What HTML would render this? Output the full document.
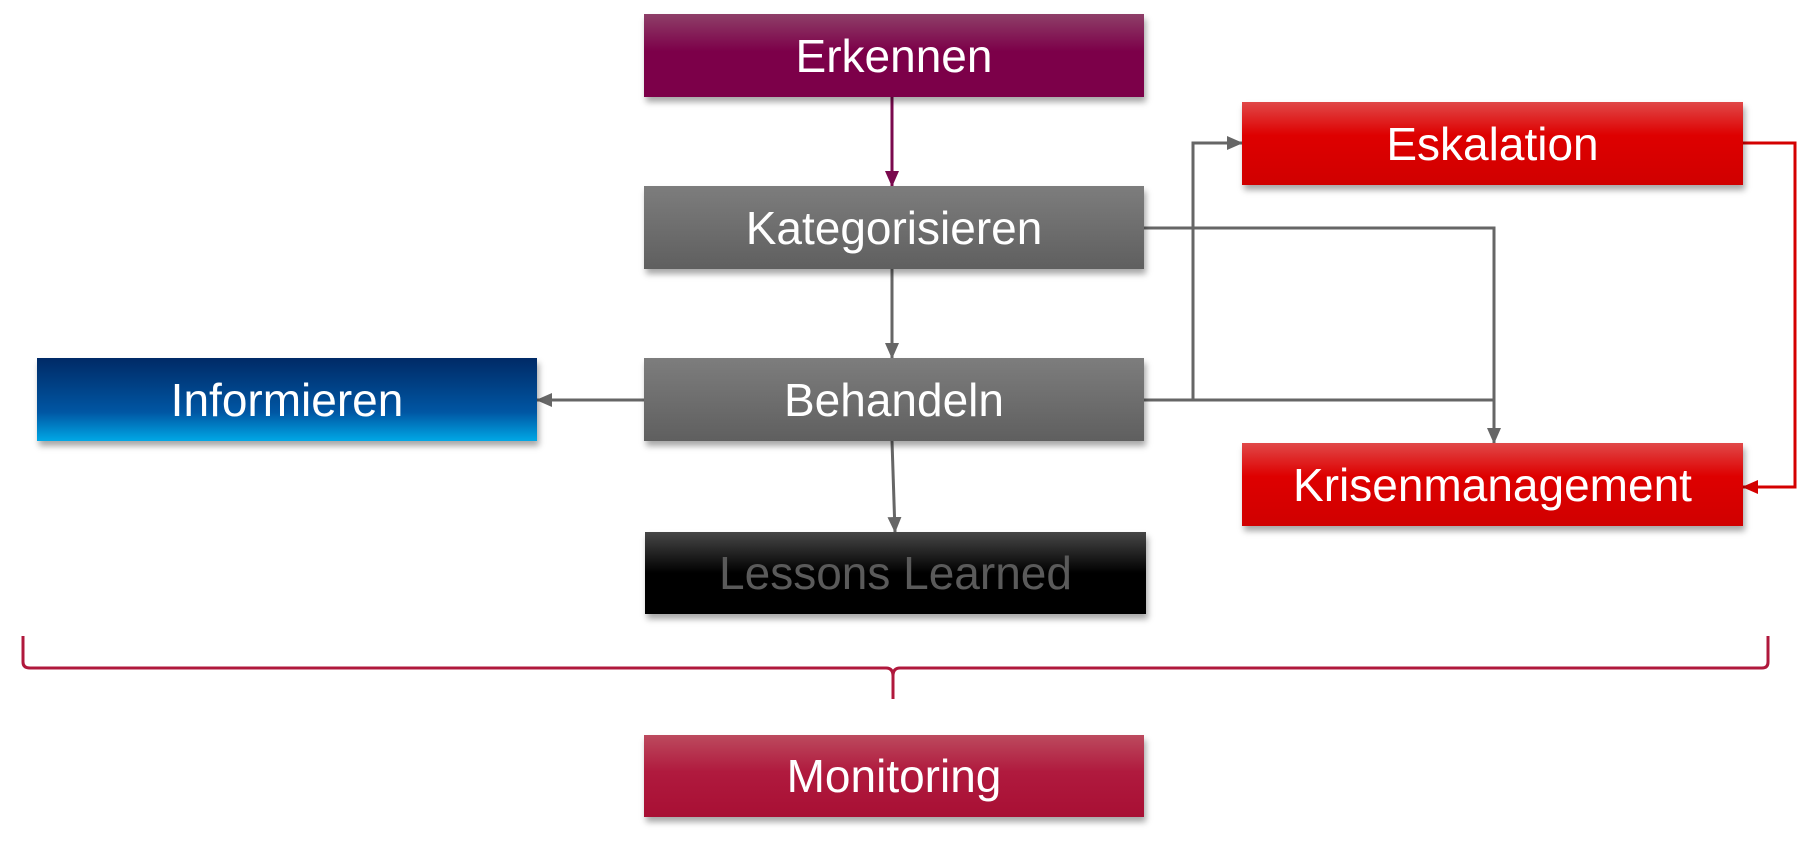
<!DOCTYPE html>
<html><head><meta charset="utf-8"><style>
body{margin:0;width:1812px;height:842px;background:#fff;position:relative;overflow:hidden;font-family:"Liberation Sans",sans-serif}
.b{position:absolute;display:flex;align-items:center;justify-content:center;color:#fff;font-size:46px;box-shadow:2px 5px 6px rgba(0,0,0,.35)}
svg{position:absolute;left:0;top:0}
</style></head><body>
<svg width="1812" height="842">
<defs>
<marker id="gg" markerWidth="16" markerHeight="14" refX="15" refY="7" orient="auto" markerUnits="userSpaceOnUse"><path d="M0,0L16,7L0,14z" fill="#666"/></marker>
<marker id="p" markerWidth="16" markerHeight="14" refX="15" refY="7" orient="auto" markerUnits="userSpaceOnUse"><path d="M0,0L16,7L0,14z" fill="#7a0a4e"/></marker>
<marker id="r" markerWidth="16" markerHeight="14" refX="15" refY="7" orient="auto" markerUnits="userSpaceOnUse"><path d="M0,0L16,7L0,14z" fill="#d40000"/></marker>
</defs>
<g fill="none" stroke-width="3">
<line x1="892" y1="97" x2="892" y2="186" stroke="#7a0a4e" marker-end="url(#p)"/>
<line x1="892" y1="269" x2="892" y2="358" stroke="#666" marker-end="url(#gg)"/>
<line x1="892" y1="441" x2="895" y2="532" stroke="#666" marker-end="url(#gg)"/>
<line x1="644" y1="400" x2="537" y2="400" stroke="#666" marker-end="url(#gg)"/>
<polyline points="1144,400 1494,400 1494,443" stroke="#666" marker-end="url(#gg)"/>
<polyline points="1144,228 1494,228 1494,443" stroke="#666"/>
<polyline points="1193,400 1193,143 1242,143" stroke="#666" marker-end="url(#gg)"/>
<polyline points="1743,143 1795,143 1795,487 1743,487" stroke="#d40000" marker-end="url(#r)"/>
<path d="M23,636 L23,662 Q23,668 30,668 L886,668 Q893,668 893,676 L893,699 M893,676 Q893,668 900,668 L1762,668 Q1768,668 1768,662 L1768,636" stroke="#b0183c"/>
</g>
</svg>
<div class="b" style="left:644px;top:14px;width:500px;height:83px;background:linear-gradient(#8e3f68,#7c0049 45%,#7c0049)">Erkennen</div>
<div class="b" style="left:644px;top:186px;width:500px;height:83px;background:linear-gradient(#7d7d7d,#5f5f5f)">Kategorisieren</div>
<div class="b" style="left:644px;top:358px;width:500px;height:83px;background:linear-gradient(#7d7d7d,#5f5f5f)">Behandeln</div>
<div class="b" style="left:37px;top:358px;width:500px;height:83px;background:linear-gradient(#002a66,#0056a3 65%,#00a8e6)">Informieren</div>
<div class="b" style="left:645px;top:532px;width:501px;height:82px;background:linear-gradient(#474747,#000 50%);color:#5a5a5a">Lessons Learned</div>
<div class="b" style="left:644px;top:735px;width:500px;height:82px;background:linear-gradient(#bc4a5e,#b01a3e 45%,#a80f34)">Monitoring</div>
<div class="b" style="left:1242px;top:102px;width:501px;height:83px;background:linear-gradient(#e04848,#de0000 40%,#d00000)">Eskalation</div>
<div class="b" style="left:1242px;top:443px;width:501px;height:83px;background:linear-gradient(#e04848,#de0000 40%,#d00000)">Krisenmanagement</div>
</body></html>
